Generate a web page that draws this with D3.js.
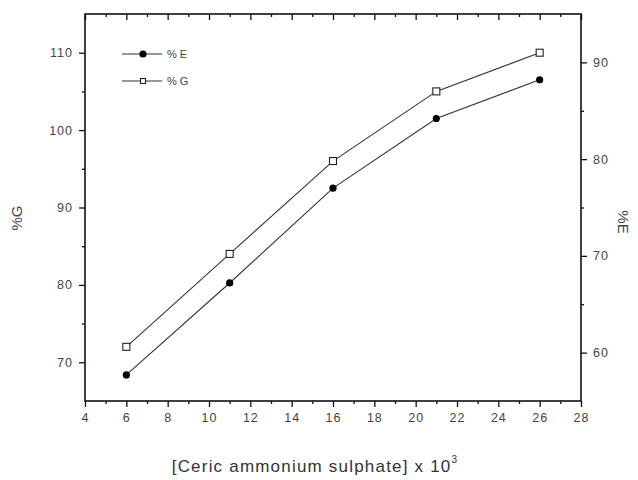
<!DOCTYPE html>
<html>
<head>
<meta charset="utf-8">
<script src="https://cdn.jsdelivr.net/npm/d3@7"></script>
<style>
  body { margin: 0; background: #fff; }
  text { font-family: Arial, "Liberation Sans", sans-serif; }
</style>
</head>
<body>
<svg width="638" height="480"></svg>
<script>
// data
var conc = [6, 11, 16, 21, 26]
var pctG = [72, 84, 96, 105, 110]      // left axis
var pctE = [57.7, 67.2, 77.0, 84.2, 88.2] // right axis
var xTicks = [4, 6, 8, 10, 12, 14, 16, 18, 20, 22, 24, 26, 28]
var gTicks = [70, 80, 90, 100, 110]
var eTicks = [60, 70, 80, 90]

var margin = {top: 14, right: 57, bottom: 79, left: 85},
    width = 638 - margin.left - margin.right,
    height = 480 - margin.top - margin.bottom

var svg = d3.select("svg")
var view = svg.append("g")
    .attr("transform", `translate(${margin.left},${margin.top})`)

var x = d3.scaleLinear().domain([4, 28]).range([0, width])
var yG = d3.scaleLinear().domain([65, 115]).range([height, 0])
var yE = d3.scaleLinear().domain([55, 95]).range([height, 0])

// minor ticks first, then major with labels
function styleAxis(g) {
    g.select(".domain").remove()
    g.selectAll("line").attr("stroke", "#111").attr("stroke-width", 1.3)
    g.selectAll("text").attr("fill", "#444").style("font-size", "12.5px").attr("letter-spacing", "1px")
}

var xMinor = d3.range(5, 28, 2)
view.append("g").attr("transform", `translate(0,${height})`)
    .call(d3.axisBottom(x).tickValues(xMinor).tickSize(3).tickFormat("")).call(styleAxis)
view.append("g").attr("transform", `translate(0,${height})`)
    .call(d3.axisBottom(x).tickValues(xTicks).tickSize(6).tickPadding(6)).call(styleAxis)
view.append("g")
    .call(d3.axisBottom(x).tickValues(xMinor).tickSize(3).tickFormat("")).call(styleAxis)
view.append("g")
    .call(d3.axisBottom(x).tickValues(xTicks).tickSize(6).tickFormat("")).call(styleAxis)

view.append("g")
    .call(d3.axisLeft(yG).tickValues([75, 85, 95, 105]).tickSize(3).tickFormat("")).call(styleAxis)
view.append("g")
    .call(d3.axisLeft(yG).tickValues(gTicks).tickSize(6).tickPadding(6)).call(styleAxis)

view.append("g").attr("transform", `translate(${width},0)`)
    .call(d3.axisRight(yE).tickValues([65, 75, 85]).tickSize(3).tickFormat("")).call(styleAxis)
view.append("g").attr("transform", `translate(${width},0)`)
    .call(d3.axisRight(yE).tickValues(eTicks).tickSize(6).tickPadding(6)).call(styleAxis)

// frame
view.append("rect")
    .attr("width", width).attr("height", height)
    .attr("fill", "none").attr("stroke", "#111").attr("stroke-width", 1.6)

// series lines
var lineG = d3.line().x((d, i) => x(conc[i])).y(d => yG(d))
var lineE = d3.line().x((d, i) => x(conc[i])).y(d => yE(d))

view.append("path").datum(pctE).attr("d", lineE)
    .attr("fill", "none").attr("stroke", "#333").attr("stroke-width", 1.1)
view.append("path").datum(pctG).attr("d", lineG)
    .attr("fill", "none").attr("stroke", "#333").attr("stroke-width", 1.1)

view.selectAll(".ptE").data(pctE).enter().append("circle")
    .attr("cx", (d, i) => x(conc[i])).attr("cy", d => yE(d))
    .attr("r", 3.6).attr("fill", "#000")
view.selectAll(".ptG").data(pctG).enter().append("rect")
    .attr("x", (d, i) => x(conc[i]) - 3.5).attr("y", d => yG(d) - 3.5)
    .attr("width", 7).attr("height", 7)
    .attr("fill", "#fff").attr("stroke", "#222").attr("stroke-width", 1.1)

// legend
var legend = view.append("g").attr("transform", "translate(37,40)")
var rows = [{label: "% E", sym: "circle"}, {label: "% G", sym: "square"}]
rows.forEach((r, i) => {
    var g = legend.append("g").attr("transform", `translate(0,${i * 27})`)
    g.append("line").attr("x1", 0).attr("x2", 40).attr("stroke", "#333").attr("stroke-width", 1.1)
    if (r.sym == "circle") {
        g.append("circle").attr("cx", 21).attr("r", 3.6).attr("fill", "#000")
    } else {
        g.append("rect").attr("x", 18.5).attr("y", -2.5).attr("width", 5).attr("height", 5)
            .attr("fill", "#fff").attr("stroke", "#222").attr("stroke-width", 1.1)
    }
    g.append("text").attr("x", 45).attr("y", 4).attr("fill", "#444")
        .style("font-size", "11px").text(r.label)
})

// axis titles
svg.append("text")
    .attr("transform", "translate(22,218) rotate(-90)")
    .attr("text-anchor", "middle").attr("fill", "#444")
    .style("font-size", "15px").text("%G")
svg.append("text")
    .attr("transform", "translate(618,222) rotate(90)")
    .attr("text-anchor", "middle").attr("fill", "#444")
    .style("font-size", "15px").text("%E")

var xt = svg.append("text")
    .attr("x", 315).attr("y", 472)
    .attr("text-anchor", "middle").attr("fill", "#333")
    .style("font-size", "17px").attr("letter-spacing", "1.2px")
xt.append("tspan").text("[Ceric ammonium sulphate] x 10")
xt.append("tspan").attr("dy", -9).style("font-size", "10px").text("3")
</script>
</body>
</html>
